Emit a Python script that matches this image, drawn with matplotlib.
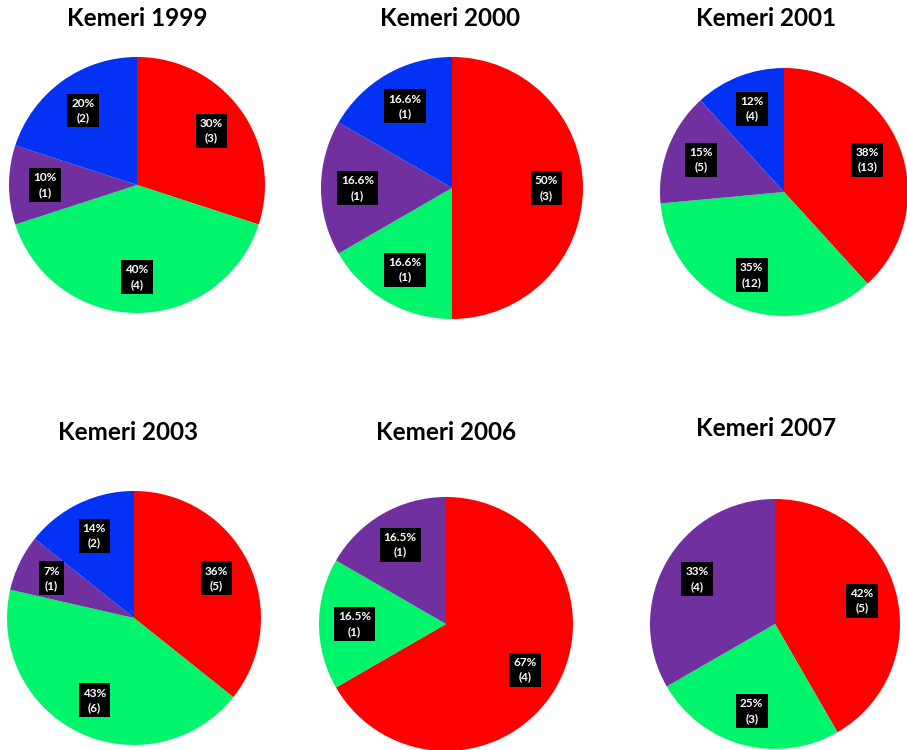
import matplotlib.pyplot as plt

plt.rcParams["font.family"] = ["Lato", "DejaVu Sans"]

# slice order: clockwise from 12 o'clock
years = ["1999", "2000", "2001", "2003", "2006", "2007"]
counts_1999 = [3, 4, 1, 2]
counts_2000 = [3, 1, 1, 1]
counts_2001 = [13, 12, 5, 4]
counts_2003 = [5, 6, 1, 2]
counts_2006 = [4, 1, 1]
counts_2007 = [5, 3, 4]
pct_1999 = ["30%", "40%", "10%", "20%"]
pct_2000 = ["50%", "16.6%", "16.6%", "16.6%"]
pct_2001 = ["38%", "35%", "15%", "12%"]
pct_2003 = ["36%", "43%", "7%", "14%"]
pct_2006 = ["67%", "16.5%", "16.5%"]
pct_2007 = ["42%", "25%", "33%"]

colors_4 = ["#ff0000", "#00f46c", "#7030a0", "#0432f5"]
colors_3 = ["#ff0000", "#00f46c", "#7030a0"]

all_counts = [counts_1999, counts_2000, counts_2001, counts_2003, counts_2006, counts_2007]
all_pcts = [pct_1999, pct_2000, pct_2001, pct_2003, pct_2006, pct_2007]

W, H = 907, 750
# pie centre x, centre y, radius (pixels from top-left), title centre x, y
layout = [
    (137, 185, 128, 137, 18),
    (452, 188, 131, 450, 18),
    (784, 192, 124, 766, 18),
    (134, 618, 127, 128, 433),
    (446, 624, 127, 446, 433),
    (775, 624, 125, 766, 428),
]

fig = plt.figure(figsize=(W / 100, H / 100), dpi=100)

for year, counts, pcts, (cx, cy, r, tx, ty) in zip(years, all_counts, all_pcts, layout):
    ax = fig.add_axes([(cx - r) / W, (H - cy - r) / H, 2 * r / W, 2 * r / H])
    cols = colors_4 if len(counts) == 4 else colors_3
    labels = [f"{p}\n({c})" for p, c in zip(pcts, counts)]
    wedges, texts = ax.pie(
        counts,
        colors=cols,
        startangle=90,
        counterclock=False,
        labels=labels,
        labeldistance=0.72,
        radius=1,
        wedgeprops=dict(linewidth=0),
        textprops=dict(color="white", fontsize=8.5, fontweight="bold",
                       ha="center", va="center", linespacing=1.4),
    )
    for t in texts:
        t.set_horizontalalignment("center")
        t.set_bbox(dict(facecolor="black", edgecolor="none", pad=3))
    ax.set_xlim(-1, 1)
    ax.set_ylim(-1, 1)
    ax.set_aspect("equal")
    ax.axis("off")
    fig.text(tx / W, 1 - ty / H, f"Kemeri {year}", ha="center", va="center",
             fontsize=17.5, fontweight="bold", color="black")

fig.savefig("out.png", dpi=100, facecolor="white")
